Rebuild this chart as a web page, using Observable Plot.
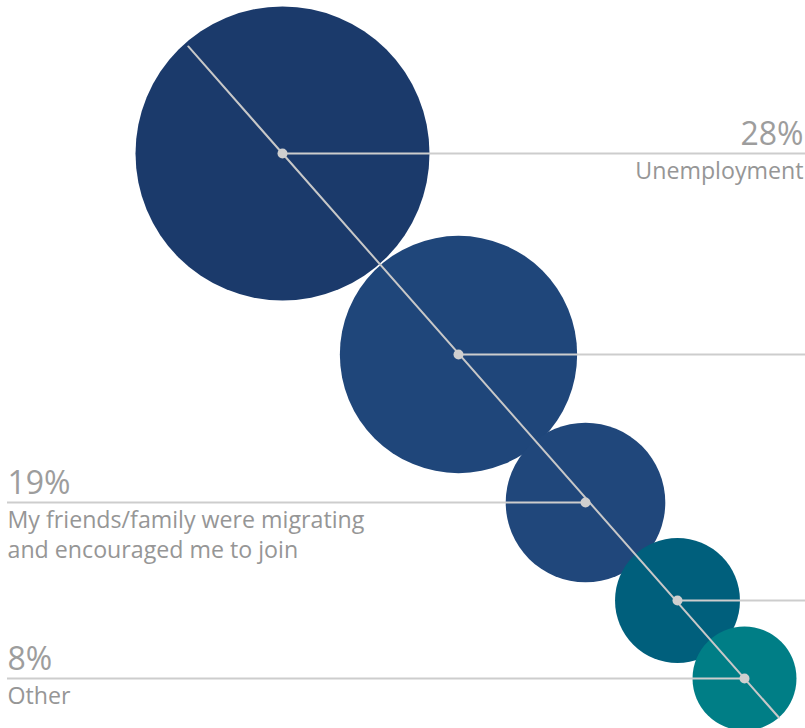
<!DOCTYPE html>
<html>
<head>
<meta charset="utf-8">
<script src="https://cdn.jsdelivr.net/npm/d3@7"></script>
<script src="https://cdn.jsdelivr.net/npm/@observablehq/plot@0.6"></script>
<style>
  html, body { margin: 0; padding: 0; background: #ffffff; }
  #chart svg { display: block; }
</style>
</head>
<body>
<div id="chart"></div>
<script>
// ---- data ----
const labels = ["Unemployment", "", "My friends/family were migrating\nand encouraged me to join", "", "Other"];
const shares = ["28%", "", "19%", "", "8%"];
const bubbleSize = [28, 22.6, 15.2, 11.9, 9.9];     // relative bubble size
const posX = [282, 458, 585, 677, 744];             // bubble centre, horizontal units
const posY = [153, 354, 502, 600, 678];             // bubble centre, vertical units
const side = ["right", "right", "left", "right", "left"];
const colors = ["#1b3a6b", "#1f467a", "#20477b", "#005f7c", "#007e86"];

// ---- build table ----
const W = 805, H = 728;
const rDomain = [0, 28], rRange = [0, 147];
const rScale = d3.scaleLinear(rDomain, rRange);
const rows = labels.map((label, i) => ({
  label, share: shares[i], size: bubbleSize[i], x: posX[i], y: posY[i],
  side: side[i], color: colors[i]
}));

// diagonal spine through first and last bubble centres, from rim to rim
const a = rows[0], b = rows[rows.length - 1];
const dx = b.x - a.x, dy = b.y - a.y, len = Math.hypot(dx, dy);
const ux = dx / len, uy = dy / len;
const spine = [
  {x: a.x - ux * rScale(a.size) * 0.97, y: a.y - uy * rScale(a.size) * 0.97},
  {x: b.x + ux * rScale(b.size), y: b.y + uy * rScale(b.size)}
];

const leaders = rows.map(d => ({
  y: d.y,
  x1: d.side === "right" ? d.x : 7,
  x2: d.side === "right" ? W : d.x
}));
const rightLab = rows.filter(d => d.share && d.side === "right");
const leftLab = rows.filter(d => d.share && d.side === "left");

const shareStyle = {y: "y", text: "share", lineAnchor: "middle", dy: -19, fontSize: 32, fill: "#9d9d9d"};
const labelStyle = {y: "y", text: "label", lineAnchor: "top", dy: 4, lineHeight: 1.3, fontSize: 23.2, fill: "#969696"};

const chart = Plot.plot({
  width: W, height: H,
  marginTop: 0, marginRight: 0, marginBottom: 0, marginLeft: 0,
  x: {domain: [0, W], range: [0, W], axis: null},
  y: {domain: [0, H], range: [0, H], axis: null},
  r: {type: "linear", domain: rDomain, range: rRange},
  style: {background: "#ffffff", overflow: "visible", fontFamily: "'Open Sans', sans-serif"},
  marks: [
    Plot.dot(rows, {x: "x", y: "y", r: "size", fill: "color", stroke: "none"}),
    Plot.line(spine, {x: "x", y: "y", stroke: "#c8c8c8", strokeWidth: 2}),
    Plot.ruleY(leaders, {y: "y", x1: "x1", x2: "x2", stroke: "#cdcdcd", strokeWidth: 2}),
    Plot.dot(rows, {x: "x", y: "y", r: 5, fill: "#cfcfcf", stroke: "none"}),
    Plot.text(rightLab, {...shareStyle, x: () => W - 2, textAnchor: "end"}),
    Plot.text(rightLab, {...labelStyle, x: () => W - 2, textAnchor: "end"}),
    Plot.text(leftLab, {...shareStyle, x: () => 7, textAnchor: "start"}),
    Plot.text(leftLab, {...labelStyle, x: () => 7, textAnchor: "start"})
  ]
});
document.getElementById("chart").append(chart);
</script>
</body>
</html>
